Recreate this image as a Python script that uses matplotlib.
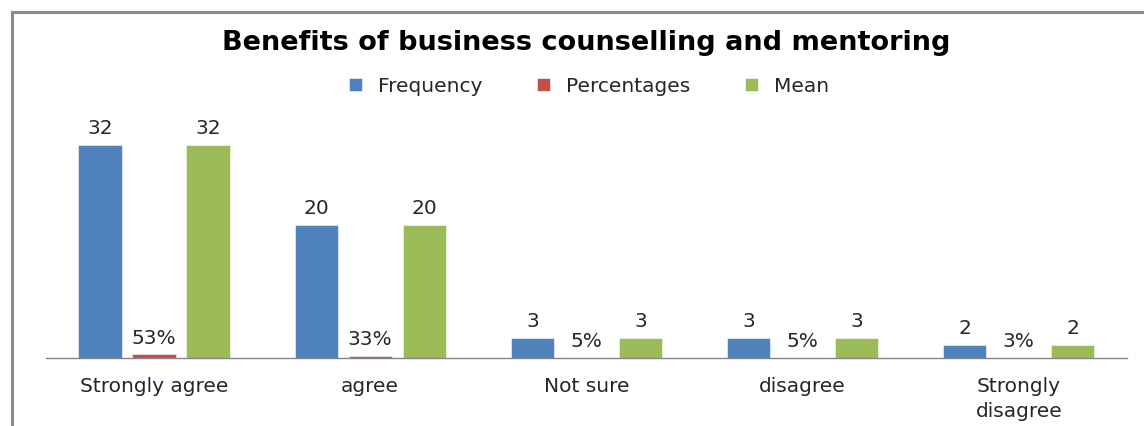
"""
Benefits of business counselling and mentoring - grouped bar chart
"""
import matplotlib
matplotlib.use('Agg')
import matplotlib.pyplot as plt
import numpy as np

plt.rcParams['font.family'] = ['DejaVu Sans']

# ── Data ──────────────────────────────────────────────────
categories = ['Strongly agree', 'agree', 'Not sure', 'disagree', 'Strongly\ndisagree']
frequency = [32, 20, 3, 3, 2]
percentages = [0.53, 0.33, 0.05, 0.05, 0.03]
mean = [32, 20, 3, 3, 2]

series_names = ['Frequency', 'Percentages', 'Mean']
colors = ['#4F81BD', '#C0504D', '#9BBB59']

# ── Figure ────────────────────────────────────────────────
fig = plt.figure(figsize=(11.44, 4.26), dpi=100)
fig.patch.set_facecolor('white')
ax = fig.add_axes([0.0402, 0.1596, 0.9448, 0.547])

x = np.arange(len(categories))
width = 0.2
offset = 0.25

b1 = ax.bar(x - offset, frequency, width, color=colors[0], label=series_names[0],
            edgecolor='white', linewidth=0.4)
b2 = ax.bar(x, percentages, width, color=colors[1], label=series_names[1],
            edgecolor='white', linewidth=0.4)
b3 = ax.bar(x + offset, mean, width, color=colors[2], label=series_names[2],
            edgecolor='white', linewidth=0.4)

lab_kw = dict(padding=5, fontsize=14.5, color='#262626')
ax.bar_label(b1, labels=[f'{v}' for v in frequency], **lab_kw)
ax.bar_label(b2, labels=[f'{v * 100:.0f}%' for v in percentages], **lab_kw)
ax.bar_label(b3, labels=[f'{v}' for v in mean], **lab_kw)

ax.set_xlim(-0.5, len(categories) - 0.5)
ax.set_ylim(0, 35)
ax.set_xticks(x)
ax.set_xticklabels(categories, fontsize=14.5, color='#262626', linespacing=1.35)
ax.tick_params(axis='x', length=0, pad=14)
ax.set_yticks([])

for side in ['top', 'right', 'left']:
    ax.spines[side].set_visible(False)
ax.spines['bottom'].set_color('#868686')
ax.spines['bottom'].set_linewidth(1)

fig.text(0.512, 0.9, 'Benefits of business counselling and mentoring',
         ha='center', va='center', fontsize=19.5, fontweight='bold', color='black')

fig.legend(loc='center', bbox_to_anchor=(0.515, 0.798), ncol=3, frameon=False,
           fontsize=14.5, handlelength=0.65, handleheight=0.65, handletextpad=0.8,
           columnspacing=2.7, labelcolor='#262626')

# outer chart border (top and left edges visible)
fig.add_artist(plt.Line2D([12 / 1144, 1.0], [1 - 12 / 426, 1 - 12 / 426],
                          transform=fig.transFigure, color='#8c8c8c', linewidth=2.2))
fig.add_artist(plt.Line2D([12 / 1144, 12 / 1144], [0, 1 - 12 / 426],
                          transform=fig.transFigure, color='#8c8c8c', linewidth=2.2))

plt.savefig('out.png', dpi=100, facecolor='white')
plt.close()
